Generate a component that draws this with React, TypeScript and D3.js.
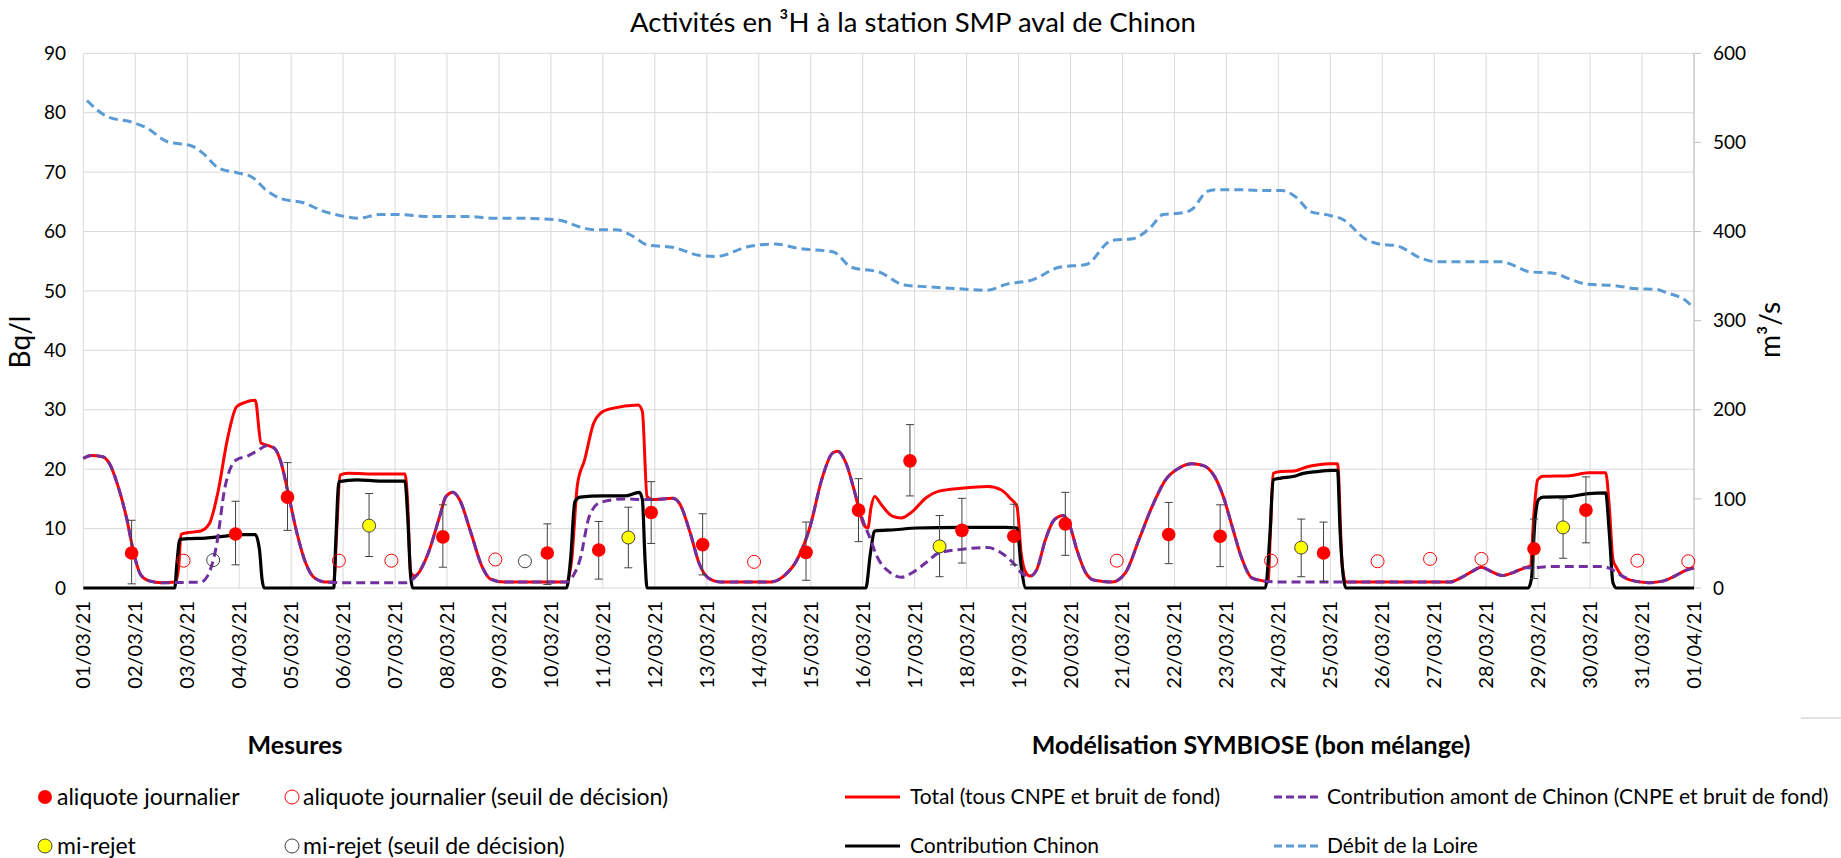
import { useEffect, useRef } from "react";
import * as d3 from "d3";

const W = 1841;
const H = 858;
const FONT = "Lato, 'Liberation Sans', sans-serif";

const startDate = Date.UTC(2021, 2, 1);
const dayCount = 31;

const leftTicks = [0, 10, 20, 30, 40, 50, 60, 70, 80, 90];
const rightTicks = [0, 100, 200, 300, 400, 500, 600];

// model series: [day offset from 01/03, value]
const total: [number, number][] = [
  [0, 21.8], [0.15, 22.3], [0.37, 22.1], [0.5, 21.0], [0.67, 17.1], [0.84, 11.5], [0.97, 5.9], [1.1, 2.3],
  [1.27, 1.2], [1.5, 0.9], [1.78, 1.0], [1.84, 4.0], [1.88, 9.0], [2.0, 9.3], [2.26, 9.6], [2.43, 10.9],
  [2.6, 16.5], [2.77, 24.9], [2.95, 30.5], [3.1, 31.2], [3.31, 31.6], [3.42, 24.4], [3.55, 24.0], [3.68, 23.5],
  [3.81, 21.0], [3.93, 16.5], [4.11, 9.3], [4.28, 4.2], [4.45, 1.7], [4.66, 1.0], [4.82, 1.0], [4.88, 10.0],
  [4.94, 19.0], [5.09, 19.3], [5.7, 19.2], [6.19, 19.2], [6.24, 14.9], [6.3, 2.6], [6.38, 2.0], [6.43, 2.3],
  [6.64, 5.9], [6.86, 12.1], [6.98, 15.4], [7.11, 16.1], [7.24, 14.9], [7.46, 9.3], [7.67, 3.7], [7.84, 1.5],
  [8.1, 1.0], [9.3, 1.0], [9.4, 4.8], [9.51, 17.4], [9.65, 21.6], [9.82, 27.7], [9.95, 29.4], [10.16, 30.2],
  [10.68, 30.8], [10.76, 29.7], [10.85, 15.4], [10.94, 14.9], [11.34, 15.1], [11.47, 14.3], [11.68, 9.3],
  [11.85, 4.2], [12.03, 1.7], [12.28, 1.0], [13.22, 1.0], [13.48, 2.0], [13.74, 4.8], [13.99, 10.4],
  [14.21, 18.2], [14.42, 22.7], [14.52, 23.0], [14.68, 21.0], [14.85, 16.0], [14.93, 13.2], [15.03, 10.5],
  [15.1, 10.1], [15.16, 13.5], [15.23, 15.4], [15.36, 14.0], [15.57, 12.1], [15.74, 11.8], [15.96, 12.9],
  [16.21, 15.1], [16.47, 16.3], [16.9, 16.8], [17.41, 17.1], [17.67, 16.5], [17.84, 15.1], [17.97, 13.7],
  [18.05, 5.9], [18.14, 2.6], [18.22, 2.0], [18.35, 3.1], [18.52, 8.2], [18.69, 11.5], [18.86, 12.2],
  [18.99, 10.4], [19.12, 6.5], [19.29, 2.6], [19.46, 1.3], [19.8, 1.0], [20.06, 2.6], [20.32, 8.2],
  [20.57, 13.7], [20.83, 18.2], [21.09, 20.2], [21.34, 20.9], [21.56, 20.6], [21.77, 18.8], [21.94, 15.4],
  [22.11, 10.4], [22.28, 5.4], [22.49, 1.7], [22.71, 1.2], [22.8, 1.0], [22.85, 10.0], [22.9, 19.3],
  [23.05, 19.6], [23.31, 19.7], [23.56, 20.4], [23.74, 20.7], [24.03, 20.9], [24.14, 20.9], [24.23, 3.7],
  [24.3, 1.0], [26.3, 1.0], [26.51, 1.7], [26.73, 2.8], [26.91, 3.5], [27.09, 2.8], [27.31, 2.1], [27.52, 2.6],
  [27.74, 3.4], [27.85, 3.7], [27.92, 12.6], [27.99, 18.2], [28.1, 18.8], [28.61, 18.9], [28.97, 19.4],
  [29.3, 19.4], [29.37, 13.7], [29.44, 4.8], [29.51, 3.4], [29.62, 2.0], [29.84, 1.2], [30.13, 0.9],
  [30.42, 1.2], [30.63, 2.0], [30.85, 3.0], [31, 3.4],
];

const chinon: [number, number][] = [
  [0, 0], [1.76, 0], [1.8, 4.0], [1.86, 8.2], [2.0, 8.3], [2.35, 8.4], [2.69, 8.7], [3.03, 9.0], [3.31, 9.0],
  [3.39, 6.5], [3.44, 1.5], [3.48, 0], [4.82, 0], [4.86, 8.0], [4.92, 17.9], [5.27, 18.2], [5.7, 18.0],
  [6.19, 18.0], [6.24, 12.6], [6.3, 2.0], [6.34, 0], [9.3, 0], [9.38, 5.0], [9.46, 14.5], [9.56, 15.3],
  [9.99, 15.5], [10.42, 15.5], [10.7, 16.1], [10.76, 14.9], [10.81, 5.0], [10.85, 0], [15.06, 0], [15.15, 5.9],
  [15.23, 9.6], [15.62, 9.8], [16.04, 10.1], [16.9, 10.2], [17.75, 10.2], [17.97, 10.1], [18.05, 3.7],
  [18.14, 0], [22.75, 0], [22.84, 9.3], [22.9, 18.2], [23.05, 18.5], [23.31, 18.8], [23.48, 19.3],
  [23.74, 19.6], [24.03, 19.8], [24.14, 19.8], [24.19, 9.3], [24.3, 0], [27.81, 0], [27.87, 1.5],
  [27.94, 11.5], [28.01, 14.9], [28.1, 15.3], [28.61, 15.4], [28.97, 15.9], [29.3, 16.0], [29.37, 9.3],
  [29.44, 0.9], [29.51, 0], [31, 0],
];

const amont: [number, number][] = [
  [0, 21.8], [0.15, 22.3], [0.37, 22.1], [0.5, 21.0], [0.67, 17.1], [0.84, 11.5], [0.97, 5.9], [1.1, 2.3],
  [1.27, 1.2], [1.5, 0.9], [2.26, 1.0], [2.39, 2.0], [2.56, 7.0], [2.73, 17.1], [2.95, 21.6], [3.16, 22.2],
  [3.33, 23.0], [3.55, 24.0], [3.68, 23.5], [3.81, 21.0], [3.93, 16.5], [4.11, 9.3], [4.28, 4.2], [4.45, 1.7],
  [4.66, 1.0], [5.0, 0.9], [6.2, 0.9], [6.3, 1.2], [6.43, 2.3], [6.64, 5.9], [6.86, 12.1], [6.98, 15.4],
  [7.11, 16.1], [7.24, 14.9], [7.46, 9.3], [7.67, 3.7], [7.84, 1.5], [8.1, 1.0], [9.3, 1.0], [9.4, 1.7],
  [9.56, 4.8], [9.74, 12.1], [9.95, 14.4], [10.42, 15.0], [10.76, 14.9], [11.0, 14.9], [11.34, 15.1],
  [11.47, 14.3], [11.68, 9.3], [11.85, 4.2], [12.03, 1.7], [12.28, 1.0], [13.22, 1.0], [13.48, 2.0],
  [13.74, 4.8], [13.99, 10.4], [14.21, 18.2], [14.42, 22.7], [14.52, 23.0], [14.68, 21.0], [14.85, 16.0],
  [15.0, 11.5], [15.15, 8.2], [15.27, 5.4], [15.53, 2.6], [15.74, 1.8], [15.96, 2.6], [16.21, 4.2],
  [16.47, 5.9], [16.9, 6.5], [17.41, 6.8], [17.67, 5.9], [17.92, 4.0], [18.09, 2.3], [18.22, 2.0],
  [18.35, 3.1], [18.52, 8.2], [18.69, 11.5], [18.86, 12.2], [18.99, 10.4], [19.12, 6.5], [19.29, 2.6],
  [19.46, 1.3], [19.8, 1.0], [20.06, 2.6], [20.32, 8.2], [20.57, 13.7], [20.83, 18.2], [21.09, 20.2],
  [21.34, 20.9], [21.56, 20.6], [21.77, 18.8], [21.94, 15.4], [22.11, 10.4], [22.28, 5.4], [22.49, 1.7],
  [22.71, 1.2], [23.05, 1.0], [26.3, 1.0], [26.51, 1.7], [26.73, 2.8], [26.91, 3.5], [27.09, 2.8],
  [27.31, 2.1], [27.52, 2.6], [27.74, 3.4], [27.88, 3.4], [28.2, 3.6], [29.26, 3.6], [29.4, 3.2],
  [29.62, 2.0], [29.84, 1.2], [30.13, 0.9], [30.42, 1.2], [30.63, 2.0], [30.85, 3.0], [31, 3.4],
];

// Loire flow, m3/s
const debit: [number, number][] = [
  [0.07, 547], [0.46, 529], [0.98, 522], [1.23, 516], [1.61, 501], [2.09, 496], [2.3, 488], [2.61, 471],
  [2.96, 466], [3.25, 461], [3.55, 445], [3.8, 437], [4.25, 432], [4.57, 424], [5.02, 417], [5.31, 415],
  [5.69, 419], [6.13, 419], [6.56, 417], [7.42, 417], [7.85, 415], [8.27, 415], [9.14, 413], [9.56, 405],
  [9.83, 402], [10.25, 402], [10.6, 394], [10.85, 385], [11.37, 382], [11.87, 373], [12.18, 372],
  [12.79, 383], [13.31, 386], [13.78, 381], [14.44, 377], [14.78, 360], [15.34, 354], [15.8, 340],
  [16.25, 338], [16.79, 336], [17.38, 334], [17.78, 341], [18.28, 346], [18.78, 360], [19.3, 363],
  [19.79, 390], [20.2, 392], [20.53, 404], [20.78, 419], [21.16, 421], [21.34, 425], [21.63, 445],
  [21.8, 447], [22.22, 447], [22.65, 446], [23.07, 446], [23.33, 439], [23.63, 422], [23.92, 419],
  [24.26, 413], [24.69, 391], [24.94, 386], [25.28, 384], [25.75, 370], [26.04, 366], [26.47, 366],
  [27.31, 366], [27.57, 361], [27.82, 355], [28.33, 353], [28.55, 348], [28.93, 341], [29.52, 339],
  [29.86, 336], [30.28, 335], [30.49, 331], [30.83, 323], [31, 314],
];

// measures with uncertainty: [day, value, low, high]
const aliquote: [number, number, number, number][] = [
  [0.93, 5.9, 0.7, 11.4], [2.93, 9.1, 3.9, 14.6], [3.93, 15.3, 9.7, 21.1], [6.92, 8.6, 3.5, 14.0],
  [8.93, 5.9, 0.6, 10.8], [9.92, 6.4, 1.5, 11.2], [10.93, 12.7, 7.5, 17.9], [11.92, 7.3, 2.2, 12.5],
  [13.91, 6.0, 1.3, 11.1], [14.92, 13.1, 7.8, 18.4], [15.91, 21.4, 15.5, 27.5], [16.91, 9.7, 4.2, 15.1],
  [17.91, 8.7, 3.9, 14.1], [18.9, 10.8, 5.5, 16.1], [20.89, 9.0, 4.1, 14.4], [21.88, 8.7, 3.6, 14.0],
  [23.87, 5.9, 1.1, 11.1], [27.92, 6.6, 1.6, 11.6], [28.92, 13.1, 7.6, 18.7],
];
const miRejet: [number, number, number, number][] = [
  [5.5, 10.5, 5.3, 15.9], [10.49, 8.5, 3.4, 13.6], [16.48, 7.0, 1.9, 12.2], [23.44, 6.8, 1.9, 11.6],
  [28.48, 10.2, 5.0, 15.0],
];
// below decision threshold: [day, value]
const aliquoteSD: [number, number][] = [
  [1.93, 4.6], [4.92, 4.6], [5.93, 4.6], [7.93, 4.8], [12.91, 4.4], [19.89, 4.6], [22.86, 4.6],
  [24.91, 4.5], [25.92, 4.9], [26.91, 4.9], [29.91, 4.6], [30.89, 4.5],
];
const miRejetSD: [number, number][] = [[2.5, 4.7], [8.5, 4.5]];

const RED = "#ff0000";
const PURPLE = "#7030a0";
const BLUE = "#5b9bd5";
const GRID = "#d9d9d9";

const App = () => {
  const svgRef = useRef<SVGSVGElement>(null);

  useEffect(() => {
    if (!svgRef.current) return;
    const svg = d3.select(svgRef.current);
    svg.selectAll("*").remove();

    const left = 83.3, right = 1694, top = 53.3, bottom = 588;
    const toDate = (t: number) => new Date(startDate + t * 864e5);

    const x = d3.scaleUtc().domain([toDate(0), toDate(dayCount)]).range([left, right]);
    const y = d3.scaleLinear().domain([0, 90]).range([bottom, top]);
    const y2 = d3.scaleLinear().domain([0, 600]).range([bottom, top]);

    svg.append("rect").attr("width", W).attr("height", H).attr("fill", "#fff");

    // title
    svg.append("text")
      .attr("x", 913).attr("y", 32)
      .attr("text-anchor", "middle")
      .style("font-family", FONT).style("font-size", "27.5px").style("fill", "#000")
      .text("Activités en ³H à la station SMP aval de Chinon");

    // grid
    const days = x.ticks(d3.utcDay.every(1) as any);
    svg.append("g").selectAll("line").data(days).join("line")
      .attr("x1", d => x(d)).attr("x2", d => x(d))
      .attr("y1", top).attr("y2", bottom)
      .attr("stroke", GRID).attr("stroke-width", 1);
    svg.append("g").selectAll("line").data(leftTicks).join("line")
      .attr("x1", left).attr("x2", right)
      .attr("y1", d => y(d)).attr("y2", d => y(d))
      .attr("stroke", GRID).attr("stroke-width", 1);

    // right axis
    const rAxis = svg.append("g");
    rAxis.append("line").attr("x1", right).attr("x2", right).attr("y1", top).attr("y2", bottom)
      .attr("stroke", "#bfbfbf").attr("stroke-width", 1);
    rAxis.selectAll(".tk").data(rightTicks).join("line").attr("class", "tk")
      .attr("x1", right).attr("x2", right + 7)
      .attr("y1", d => y2(d)).attr("y2", d => y2(d))
      .attr("stroke", "#bfbfbf");
    rAxis.selectAll("text").data(rightTicks).join("text")
      .attr("x", right + 19).attr("y", d => y2(d)).attr("dy", "0.35em")
      .style("font-family", FONT).style("font-size", "19px").style("fill", "#000")
      .text(d => d);

    // left tick labels
    svg.append("g").selectAll("text").data(leftTicks).join("text")
      .attr("x", 66).attr("y", d => y(d)).attr("dy", "0.35em")
      .attr("text-anchor", "end")
      .style("font-family", FONT).style("font-size", "19px").style("fill", "#000")
      .text(d => d);

    // date labels
    const fmt = d3.utcFormat("%d/%m/%y");
    svg.append("g").selectAll("text").data(days).join("text")
      .attr("transform", d => `translate(${x(d)},${601}) rotate(-90)`)
      .attr("dy", "0.35em")
      .attr("text-anchor", "end")
      .style("font-family", FONT).style("font-size", "20px").style("fill", "#000")
      .text(d => fmt(d));

    // axis titles
    svg.append("text")
      .attr("transform", `translate(30,${342}) rotate(-90)`)
      .attr("text-anchor", "middle")
      .style("font-family", FONT).style("font-size", "28px").style("fill", "#000")
      .text("Bq/l");
    svg.append("text")
      .attr("transform", `translate(1780,${330}) rotate(-90)`)
      .attr("text-anchor", "middle")
      .style("font-family", FONT).style("font-size", "28px").style("fill", "#000")
      .text("m³/s");

    const line = d3.line<[number, number]>()
      .x(d => x(toDate(d[0])))
      .y(d => y(d[1]))
      .curve(d3.curveMonotoneX);
    const line2 = d3.line<[number, number]>()
      .x(d => x(toDate(d[0])))
      .y(d => y2(d[1]))
      .curve(d3.curveMonotoneX);

    svg.append("path").datum(debit).attr("d", line2)
      .attr("fill", "none").attr("stroke", BLUE).attr("stroke-width", 3)
      .attr("stroke-dasharray", "9,5");
    svg.append("path").datum(total).attr("d", line)
      .attr("fill", "none").attr("stroke", RED).attr("stroke-width", 3);
    svg.append("path").datum(chinon).attr("d", line)
      .attr("fill", "none").attr("stroke", "#000").attr("stroke-width", 3.2);
    svg.append("path").datum(amont).attr("d", line)
      .attr("fill", "none").attr("stroke", PURPLE).attr("stroke-width", 3)
      .attr("stroke-dasharray", "9,5");

    // error bars
    const errs = [...aliquote, ...miRejet];
    const eb = svg.append("g").attr("stroke", "#404040").attr("stroke-width", 1);
    errs.forEach(d => {
      const cx = x(toDate(d[0]));
      eb.append("line").attr("x1", cx).attr("x2", cx).attr("y1", y(d[2])).attr("y2", y(d[3]));
      eb.append("line").attr("x1", cx - 4).attr("x2", cx + 4).attr("y1", y(d[2])).attr("y2", y(d[2]));
      eb.append("line").attr("x1", cx - 4).attr("x2", cx + 4).attr("y1", y(d[3])).attr("y2", y(d[3]));
    });

    // markers
    svg.append("g").selectAll("circle").data(aliquoteSD).join("circle")
      .attr("cx", d => x(toDate(d[0]))).attr("cy", d => y(d[1])).attr("r", 6.5)
      .attr("fill", "none").attr("stroke", RED).attr("stroke-width", 1);
    svg.append("g").selectAll("circle").data(miRejetSD).join("circle")
      .attr("cx", d => x(toDate(d[0]))).attr("cy", d => y(d[1])).attr("r", 6.5)
      .attr("fill", "none").attr("stroke", "#404040").attr("stroke-width", 1);
    svg.append("g").selectAll("circle").data(aliquote).join("circle")
      .attr("cx", d => x(toDate(d[0]))).attr("cy", d => y(d[1])).attr("r", 6.8)
      .attr("fill", RED);
    svg.append("g").selectAll("circle").data(miRejet).join("circle")
      .attr("cx", d => x(toDate(d[0]))).attr("cy", d => y(d[1])).attr("r", 6.5)
      .attr("fill", "#ffff00").attr("stroke", "#404040").attr("stroke-width", 1);

    // legend
    const lg = svg.append("g").style("font-family", FONT).style("fill", "#000");
    const txt = (xx: number, yy: number, s: string, size: number, bold = false, anchor = "start") =>
      lg.append("text").attr("x", xx).attr("y", yy).attr("dy", "0.35em")
        .attr("text-anchor", anchor)
        .style("font-size", `${size}px`)
        .style("font-weight", bold ? "bold" : "normal")
        .text(s);
    const r1 = 797, r2 = 846;
    const leftSize = 23, rightSize = 21;
    txt(295, 745, "Mesures", 25, true, "middle");
    txt(1251, 745, "Modélisation SYMBIOSE (bon mélange)", 25, true, "middle");

    lg.append("circle").attr("cx", 45).attr("cy", r1).attr("r", 7).attr("fill", RED);
    txt(57, r1, "aliquote journalier", leftSize);
    lg.append("circle").attr("cx", 292).attr("cy", r1).attr("r", 7)
      .attr("fill", "none").attr("stroke", RED).attr("stroke-width", 1);
    txt(303, r1, "aliquote journalier (seuil de décision)", leftSize);
    lg.append("circle").attr("cx", 45).attr("cy", r2).attr("r", 7)
      .attr("fill", "#ffff00").attr("stroke", "#404040").attr("stroke-width", 1);
    txt(57, r2, "mi-rejet", leftSize);
    lg.append("circle").attr("cx", 292).attr("cy", r2).attr("r", 7)
      .attr("fill", "none").attr("stroke", "#404040").attr("stroke-width", 1);
    txt(303, r2, "mi-rejet (seuil de décision)", leftSize);

    lg.append("line").attr("x1", 845).attr("x2", 900).attr("y1", r1).attr("y2", r1)
      .attr("stroke", RED).attr("stroke-width", 3);
    txt(910, r1, "Total (tous CNPE et bruit de fond)", rightSize);
    lg.append("line").attr("x1", 845).attr("x2", 900).attr("y1", r2).attr("y2", r2)
      .attr("stroke", "#000").attr("stroke-width", 3);
    txt(910, r2, "Contribution Chinon", rightSize);
    lg.append("line").attr("x1", 1274).attr("x2", 1321).attr("y1", r1).attr("y2", r1)
      .attr("stroke", PURPLE).attr("stroke-width", 3).attr("stroke-dasharray", "8,4");
    txt(1327, r1, "Contribution amont de Chinon (CNPE et bruit de fond)", rightSize);
    lg.append("line").attr("x1", 1274).attr("x2", 1321).attr("y1", r2).attr("y2", r2)
      .attr("stroke", BLUE).attr("stroke-width", 3).attr("stroke-dasharray", "8,4");
    txt(1327, r2, "Débit de la Loire", rightSize);

    svg.append("line").attr("x1", 1801).attr("x2", W).attr("y1", 718).attr("y2", 718)
      .attr("stroke", "#d9d9d9").attr("stroke-width", 1.5);
  }, []);

  return (
    <svg ref={svgRef} width={W} height={H} style={{ position: "absolute", left: 0, top: 0 }} />
  );
};

export default App;
